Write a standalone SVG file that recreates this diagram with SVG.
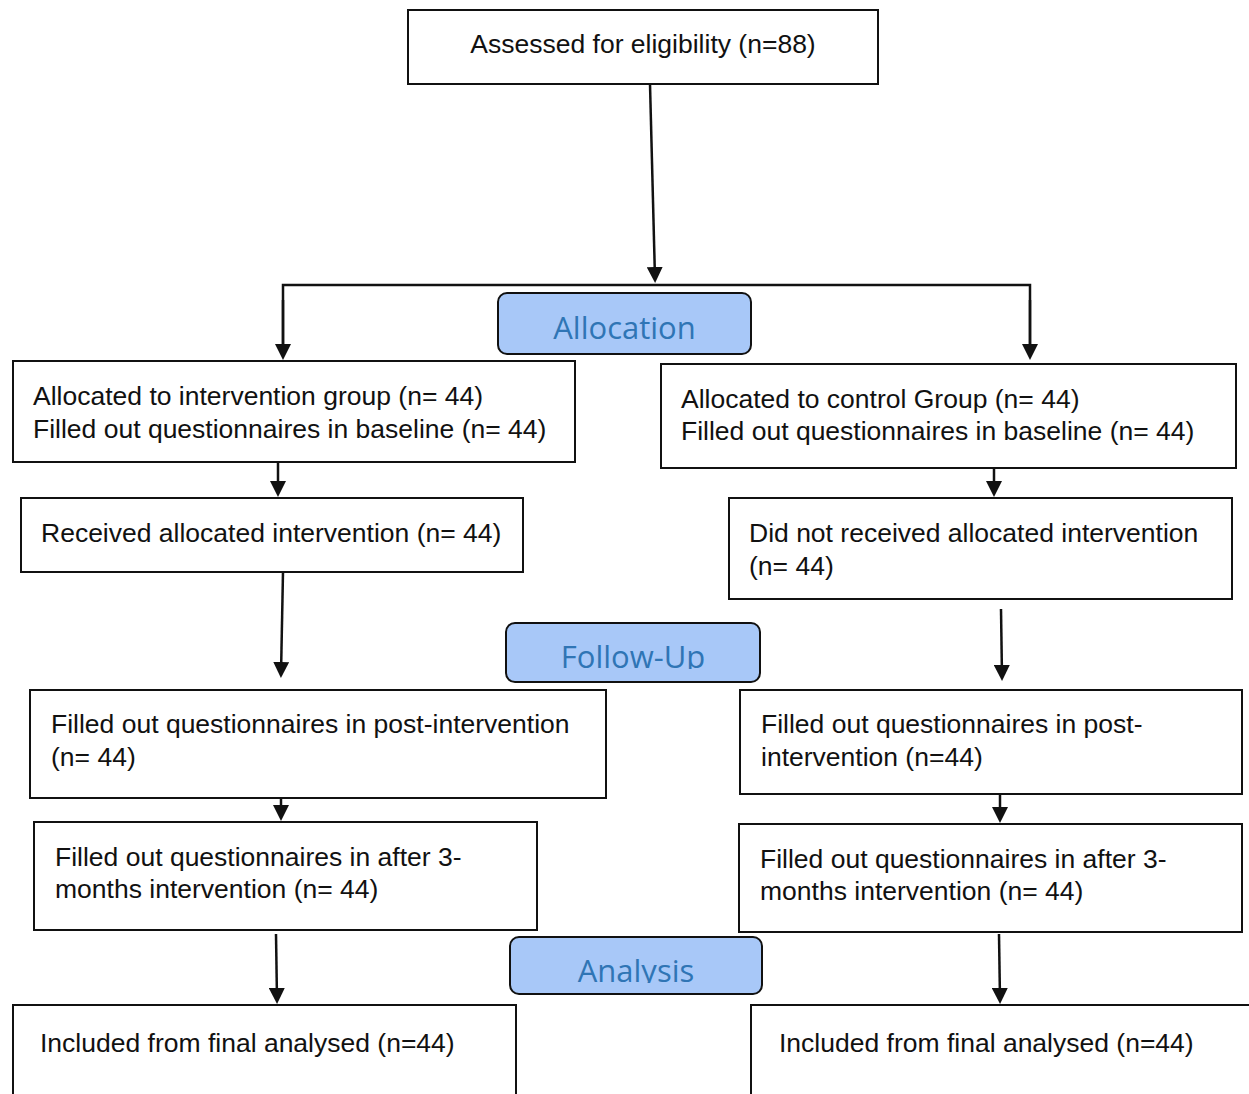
<svg xmlns="http://www.w3.org/2000/svg" width="1249" height="1094" viewBox="0 0 1249 1094">
<style>
.box{fill:#fff;stroke:#111;stroke-width:2}
.t{font-family:"Liberation Sans",Arial,sans-serif;font-size:26.5px;fill:#111}
.stage{fill:#a8c8f8;stroke:#111;stroke-width:2}
.st{font-family:"Open Sans","Noto Sans",sans-serif;font-size:31px;fill:#2f75b5;text-anchor:middle}
.c{fill:none;stroke:#111;stroke-width:2.5}
</style>
<defs>
<marker id="ah" markerUnits="userSpaceOnUse" markerWidth="16" markerHeight="16" refX="12" refY="8" orient="auto" viewBox="0 0 16 16">
<path d="M0,0 L16,8 L0,16 z" fill="#111"/>
</marker>
<clipPath id="cFU"><rect x="506" y="623" width="255" height="46"/></clipPath>
<clipPath id="cAN"><rect x="510" y="937" width="253" height="46"/></clipPath>
</defs>
<rect width="1249" height="1094" fill="#fff"/>

<g id="connectors">
<path class="c" d="M650,84 L655,279" marker-end="url(#ah)"/>
<path class="c" d="M283,356 L283,285 L1030,285 L1030,356" />
<path class="c" d="M283,300 L283,356" marker-end="url(#ah)"/>
<path class="c" d="M1030,300 L1030,356" marker-end="url(#ah)"/>
<path class="c" d="M278,462 L278,493" marker-end="url(#ah)"/>
<path class="c" d="M994,468 L994,493" marker-end="url(#ah)"/>
<path class="c" d="M283,572 L281,674" marker-end="url(#ah)"/>
<path class="c" d="M1001,609 L1002,677" marker-end="url(#ah)"/>
<path class="c" d="M281,798 L281,817" marker-end="url(#ah)"/>
<path class="c" d="M1000,794 L1000,819" marker-end="url(#ah)"/>
<path class="c" d="M276,934 L277,1000" marker-end="url(#ah)"/>
<path class="c" d="M999,934 L1000,1000" marker-end="url(#ah)"/>
</g>

<g id="assessed">
<rect class="box" x="408" y="10" width="470" height="74"/>
<text class="t" x="643" y="53" text-anchor="middle">Assessed for eligibility (n=88)</text>
</g>

<g id="allocation">
<rect class="stage" x="498" y="293" width="253" height="61" rx="9"/>
<text class="st" x="624.5" y="339">Allocation</text>
</g>

<g id="alloc-intervention">
<rect class="box" x="13" y="361" width="562" height="101"/>
<text class="t" x="33" y="405">Allocated to intervention group (n= 44)</text>
<text class="t" x="33" y="438">Filled out questionnaires in baseline (n= 44)</text>
</g>

<g id="alloc-control">
<rect class="box" x="661" y="364" width="575" height="104"/>
<text class="t" x="681" y="408">Allocated to control Group (n= 44)</text>
<text class="t" x="681" y="440">Filled out questionnaires in baseline (n= 44)</text>
</g>

<g id="received">
<rect class="box" x="21" y="498" width="502" height="74"/>
<text class="t" x="41" y="542">Received allocated intervention (n= 44)</text>
</g>

<g id="not-received">
<rect class="box" x="729" y="498" width="503" height="101"/>
<text class="t" x="749" y="542">Did not received allocated intervention</text>
<text class="t" x="749" y="575">(n= 44)</text>
</g>

<g id="followup">
<rect class="stage" x="506" y="623" width="254" height="59" rx="9"/>
<text class="st" x="633" y="668" clip-path="url(#cFU)">Follow-Up</text>
</g>

<g id="post-intervention-left">
<rect class="box" x="30" y="690" width="576" height="108"/>
<text class="t" x="51" y="733">Filled out questionnaires in post-intervention</text>
<text class="t" x="51" y="766">(n= 44)</text>
</g>

<g id="post-intervention-right">
<rect class="box" x="740" y="690" width="502" height="104"/>
<text class="t" x="761" y="733">Filled out questionnaires in post-</text>
<text class="t" x="761" y="766">intervention (n=44)</text>
</g>

<g id="three-months-left">
<rect class="box" x="34" y="822" width="503" height="108"/>
<text class="t" x="55" y="866">Filled out questionnaires in after 3-</text>
<text class="t" x="55" y="898">months intervention (n= 44)</text>
</g>

<g id="three-months-right">
<rect class="box" x="739" y="824" width="503" height="108"/>
<text class="t" x="760" y="868">Filled out questionnaires in after 3-</text>
<text class="t" x="760" y="900">months intervention (n= 44)</text>
</g>

<g id="analysis">
<rect class="stage" x="510" y="937" width="252" height="57" rx="9"/>
<text class="st" x="636" y="982" clip-path="url(#cAN)">Analysis</text>
</g>

<g id="final-left">
<rect class="box" x="13" y="1005" width="503" height="110"/>
<text class="t" x="40" y="1052">Included from final analysed (n=44)</text>
</g>

<g id="final-right">
<rect class="box" x="751" y="1005" width="520" height="110"/>
<text class="t" x="779" y="1052">Included from final analysed (n=44)</text>
</g>
</svg>
